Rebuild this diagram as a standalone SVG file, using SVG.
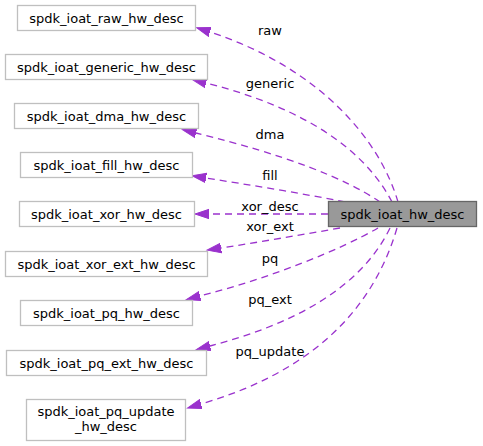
<svg xmlns="http://www.w3.org/2000/svg" width="483" height="446" viewBox="0 0 483 446">
<style>
text{font-family:"DejaVu Sans",sans-serif;font-size:13px;fill:#000}
.n rect{fill:#fff;stroke:#bfbfbf;stroke-width:1.3}
.n text{text-anchor:middle}
#main rect{fill:#999;stroke:#666}
.e path{fill:none;stroke:#9a32cd;stroke-width:1.3;stroke-dasharray:7,5;marker-end:url(#ah)}
.e text{text-anchor:middle}
</style>
<defs>
<marker id="ah" markerUnits="userSpaceOnUse" markerWidth="16" markerHeight="12" viewBox="0 -6 16 12" refX="0" refY="0" orient="auto">
<path d="M0,-4.7 L14,0 L0,4.7 Z" fill="#9a32cd" stroke="#9a32cd" stroke-width="1"/>
</marker>
</defs>
<g id="edges" class="e">
<path d="M398,202 C380,140 320,68 210,32"/>
<text x="270" y="35">raw</text>
<path d="M392,202 C365,150 305,108 206,83"/>
<text x="270" y="88">generic</text>
<path d="M380,202 C345,178 285,155 196,133"/>
<text x="270" y="139">dma</text>
<path d="M345,202 C300,193 250,185 206,178"/>
<text x="270" y="180">fill</text>
<path d="M328,214 L209,214"/>
<text x="270" y="211">xor_desc</text>
<path d="M340,228 C300,235 260,242 221,248"/>
<text x="270" y="231">xor_ext</text>
<path d="M378,228 C340,250 270,278 200,296"/>
<text x="270" y="263">pq</text>
<path d="M390,228 C360,290 290,325 210,346"/>
<text x="270" y="304">pq_ext</text>
<path d="M397,228 C370,320 300,375 201,404"/>
<text x="270" y="356">pq_update</text>
</g>
<g id="main" class="n"><rect x="328.5" y="201.5" width="148" height="25"/><text x="402.5" y="218.5">spdk_ioat_hw_desc</text></g>
<g id="raw" class="n"><rect x="17.5" y="5.5" width="178" height="25"/><text x="106.5" y="22.5">spdk_ioat_raw_hw_desc</text></g>
<g id="generic" class="n"><rect x="5.5" y="54.5" width="202" height="25"/><text x="106.5" y="71.5">spdk_ioat_generic_hw_desc</text></g>
<g id="dma" class="n"><rect x="14.5" y="103.5" width="184" height="25"/><text x="106.5" y="120.5">spdk_ioat_dma_hw_desc</text></g>
<g id="fill" class="n"><rect x="20.5" y="152.5" width="172" height="25"/><text x="106.5" y="169.5">spdk_ioat_fill_hw_desc</text></g>
<g id="xor" class="n"><rect x="19.5" y="201.5" width="175" height="25"/><text x="106.5" y="218.5">spdk_ioat_xor_hw_desc</text></g>
<g id="xor_ext" class="n"><rect x="5.5" y="251.5" width="202" height="25"/><text x="106.5" y="268.5">spdk_ioat_xor_ext_hw_desc</text></g>
<g id="pq" class="n"><rect x="20.5" y="300.5" width="172" height="25"/><text x="106.5" y="317.5">spdk_ioat_pq_hw_desc</text></g>
<g id="pq_ext" class="n"><rect x="6.5" y="350.5" width="200" height="25"/><text x="106.5" y="367.5">spdk_ioat_pq_ext_hw_desc</text></g>
<g id="pq_update" class="n"><rect x="26.5" y="399.5" width="159" height="41"/><text x="106" y="416">spdk_ioat_pq_update</text><text x="106" y="431">_hw_desc</text></g>
</svg>
